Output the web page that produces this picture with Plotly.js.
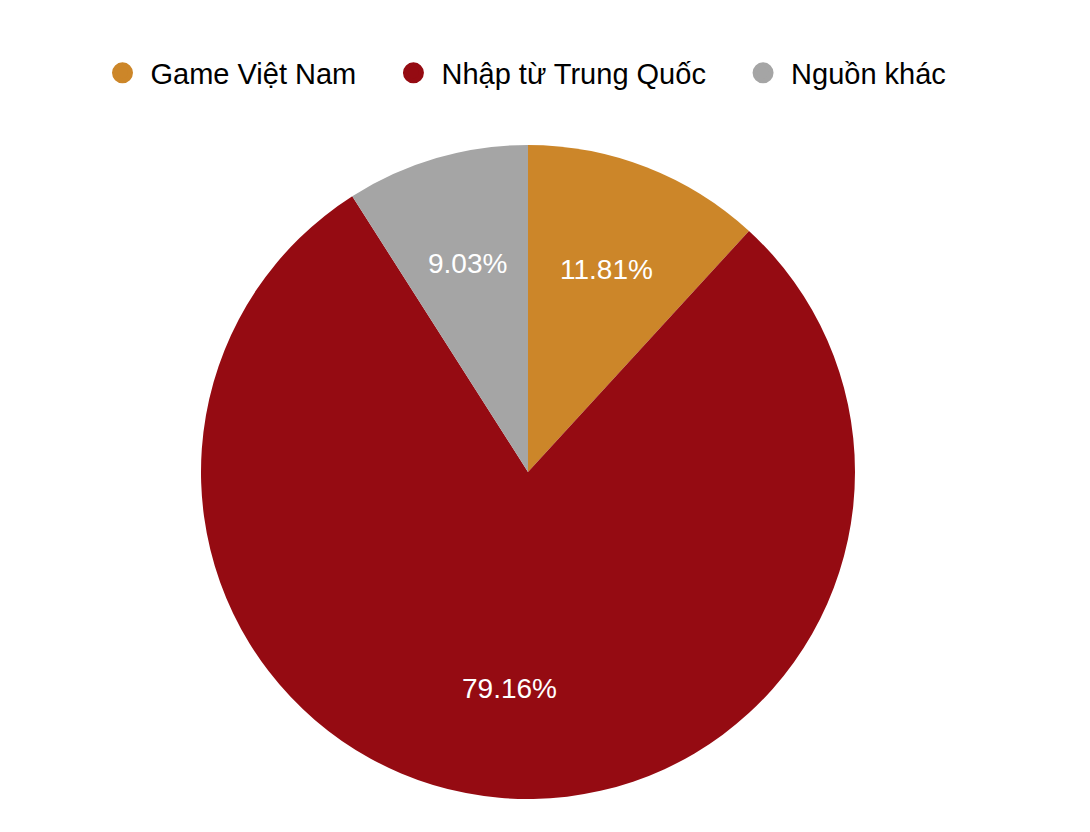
<!DOCTYPE html>
<html>
<head>
<meta charset="utf-8">
<script src="https://cdn.plot.ly/plotly-3.0.1.min.js"></script>
<style>
  html, body { margin: 0; padding: 0; background: #fff; }
  #chart { width: 1090px; height: 832px; }
</style>
</head>
<body>
<div id="chart"></div>
<script>
var labels = ['Game Việt Nam', 'Nhập từ Trung Quốc', 'Nguồn khác'];
var shares = [11.81, 79.16, 9.03];
var colors = ['#CC8629', '#950B12', '#A5A5A5'];

var fontFamily = '"Liberation Sans", Arial, Helvetica, sans-serif';

var W = 1090, H = 832;
var margin = { l: 0, r: 34, t: 145, b: 33 };
var plotW = W - margin.l - margin.r;
var plotH = H - margin.t - margin.b;
var R = Math.min(plotW, plotH) / 2;

var pie = {
  type: 'pie',
  labels: labels,
  values: shares,
  sort: false,
  direction: 'clockwise',
  rotation: 0,
  marker: { colors: colors, line: { width: 0 } },
  textinfo: 'none',
  showlegend: false,
  hoverinfo: 'label+percent'
};

// legend entries with round markers
var legendTraces = labels.map(function (name, i) {
  var pad = i < labels.length - 1 ? '\u00a0\u00a0\u00a0' : '';
  return {
    type: 'scatter',
    mode: 'markers',
    x: [null],
    y: [null],
    name: name + pad,
    marker: { color: colors[i], size: 16, line: { color: colors[i], width: 5 } },
    showlegend: true,
    hoverinfo: 'skip'
  };
});

// percentage labels at 2/3 of the radius, on each slice's middle angle
var total = shares.reduce(function (a, b) { return a + b; }, 0);
var annotations = [];
var cum = 0;
shares.forEach(function (v) {
  var mid = (cum + v / 2) / total * 2 * Math.PI;
  cum += v;
  annotations.push({
    xref: 'paper', yref: 'paper',
    x: 0.5 + 0.665 * R * Math.sin(mid) / plotW,
    y: 0.5 + 0.665 * R * Math.cos(mid) / plotH,
    xanchor: 'center', yanchor: 'middle',
    text: v.toFixed(2) + '%',
    showarrow: false,
    font: { color: '#ffffff', size: 28, family: fontFamily }
  });
});

var data = [pie].concat(legendTraces);

var layout = {
  width: W,
  height: H,
  margin: margin,
  paper_bgcolor: '#ffffff',
  plot_bgcolor: '#ffffff',
  font: { family: fontFamily, color: '#000000' },
  xaxis: { visible: false },
  yaxis: { visible: false },
  annotations: annotations,
  legend: {
    orientation: 'h',
    x: 0.5 - 5 / plotW,
    xanchor: 'center',
    y: 1 + (margin.t - 73) / plotH,
    yanchor: 'middle',
    font: { size: 29, family: fontFamily, color: '#000000' },
    itemwidth: 46
  }
};

Plotly.newPlot('chart', data, layout, { displayModeBar: false });
</script>
</body>
</html>
